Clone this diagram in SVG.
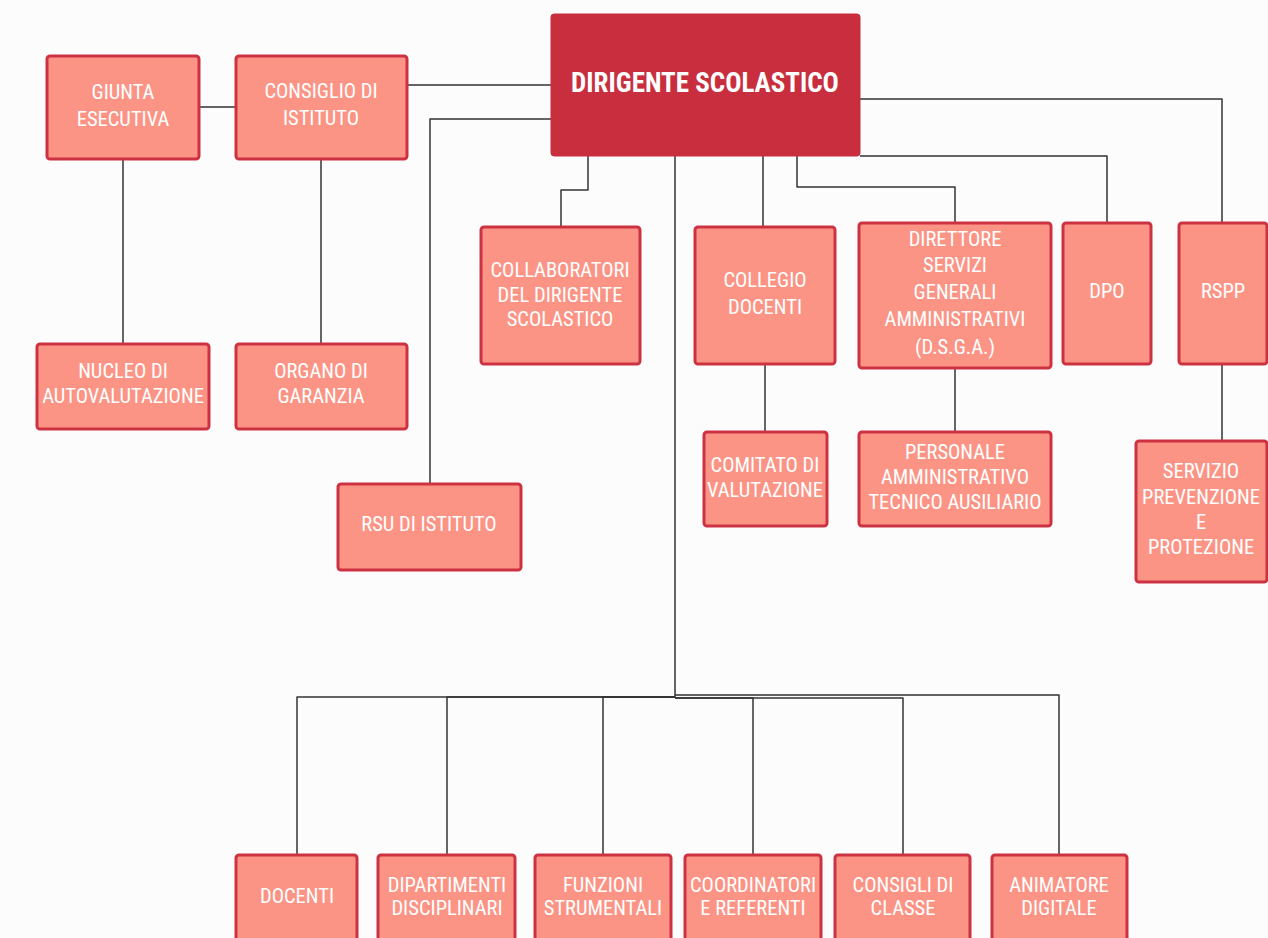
<svg xmlns="http://www.w3.org/2000/svg" width="1268" height="938" viewBox="0 0 1268 938">
<style>
.bg{fill:#fcfcfc}
.box{fill:#fc9486;stroke:#cd3242;stroke-width:3}
.main{fill:#c92e3e;stroke:#c92e3e;stroke-width:1}
.t{font-family:"Roboto Condensed","Liberation Sans Narrow","Liberation Sans",sans-serif;font-size:20.5px;fill:#ffffff;text-anchor:middle}
.tm{font-family:"Roboto Condensed","Liberation Sans Narrow","Liberation Sans",sans-serif;font-size:27px;font-weight:bold;fill:#ffffff;text-anchor:middle}
.c{fill:none;stroke:#333333;stroke-width:1.5;stroke-linejoin:round}
</style>
<rect class="bg" x="0" y="0" width="1268" height="938"/>
<g id="connectors">
<path class="c" d="M199,107 H236"/>
<path class="c" d="M407,85 H551"/>
<path class="c" d="M551,119 H430 V484"/>
<path class="c" d="M123,159 V344"/>
<path class="c" d="M321,159 V344"/>
<path class="c" d="M588,156 V190 H561 V227"/>
<path class="c" d="M763,156 V227"/>
<path class="c" d="M797,156 V187 H955 V223"/>
<path class="c" d="M860,156 H1107 V223"/>
<path class="c" d="M860,99 H1222 V223"/>
<path class="c" d="M765,364 V432"/>
<path class="c" d="M955,368 V432"/>
<path class="c" d="M1222,364 V441"/>
<path class="c" d="M675,156 V697 H297 V855"/>
<path class="c" d="M675,697 H447 V855"/>
<path class="c" d="M675,697 H603 V855"/>
<path class="c" d="M675,698 H753 V855"/>
<path class="c" d="M675,698 H903 V855"/>
<path class="c" d="M675,695 H1059 V855"/>
</g>
<g id="dirigente">
<rect class="main" x="551" y="14" width="309" height="142" rx="3"/>
<text class="tm" x="705" y="92">DIRIGENTE SCOLASTICO</text>
</g>
<g id="giunta">
<rect class="box" x="47" y="56" width="152" height="103" rx="3"/>
<text class="t" x="123" y="99">GIUNTA</text>
<text class="t" x="123" y="126">ESECUTIVA</text>
</g>
<g id="consiglio">
<rect class="box" x="236" y="56" width="171" height="103" rx="3"/>
<text class="t" x="321" y="98">CONSIGLIO DI</text>
<text class="t" x="321" y="125">ISTITUTO</text>
</g>
<g id="nucleo">
<rect class="box" x="37" y="344" width="172" height="85" rx="3"/>
<text class="t" x="123" y="378">NUCLEO DI</text>
<text class="t" x="123" y="403">AUTOVALUTAZIONE</text>
</g>
<g id="organo">
<rect class="box" x="236" y="344" width="171" height="85" rx="3"/>
<text class="t" x="321" y="378">ORGANO DI</text>
<text class="t" x="321" y="403">GARANZIA</text>
</g>
<g id="rsu">
<rect class="box" x="338" y="484" width="183" height="86" rx="3"/>
<text class="t" x="429" y="531">RSU DI ISTITUTO</text>
</g>
<g id="collaboratori">
<rect class="box" x="481" y="227" width="159" height="137" rx="3"/>
<text class="t" x="560" y="277">COLLABORATORI</text>
<text class="t" x="560" y="302">DEL DIRIGENTE</text>
<text class="t" x="560" y="326">SCOLASTICO</text>
</g>
<g id="collegio">
<rect class="box" x="695" y="227" width="140" height="137" rx="3"/>
<text class="t" x="765" y="287">COLLEGIO</text>
<text class="t" x="765" y="314">DOCENTI</text>
</g>
<g id="dsga">
<rect class="box" x="859" y="223" width="192" height="145" rx="3"/>
<text class="t" x="955" y="246">DIRETTORE</text>
<text class="t" x="955" y="272">SERVIZI</text>
<text class="t" x="955" y="299">GENERALI</text>
<text class="t" x="955" y="326">AMMINISTRATIVI</text>
<text class="t" x="955" y="354">(D.S.G.A.)</text>
</g>
<g id="dpo">
<rect class="box" x="1063" y="223" width="88" height="141" rx="3"/>
<text class="t" x="1107" y="298">DPO</text>
</g>
<g id="rspp">
<rect class="box" x="1179" y="223" width="88" height="141" rx="3"/>
<text class="t" x="1223" y="298">RSPP</text>
</g>
<g id="comitato">
<rect class="box" x="704" y="432" width="123" height="94" rx="3"/>
<text class="t" x="765" y="472">COMITATO DI</text>
<text class="t" x="765" y="497">VALUTAZIONE</text>
</g>
<g id="personale">
<rect class="box" x="859" y="432" width="192" height="94" rx="3"/>
<text class="t" x="955" y="459">PERSONALE</text>
<text class="t" x="955" y="484">AMMINISTRATIVO</text>
<text class="t" x="955" y="509">TECNICO AUSILIARIO</text>
</g>
<g id="servizio">
<rect class="box" x="1136" y="441" width="131" height="141" rx="3"/>
<text class="t" x="1201" y="478">SERVIZIO</text>
<text class="t" x="1201" y="504">PREVENZIONE</text>
<text class="t" x="1201" y="529">E</text>
<text class="t" x="1201" y="554">PROTEZIONE</text>
</g>
<g id="docenti">
<rect class="box" x="236" y="855" width="121" height="95" rx="3"/>
<text class="t" x="297" y="903">DOCENTI</text>
</g>
<g id="dipartimenti">
<rect class="box" x="378" y="855" width="137" height="95" rx="3"/>
<text class="t" x="447" y="892">DIPARTIMENTI</text>
<text class="t" x="447" y="915">DISCIPLINARI</text>
</g>
<g id="funzioni">
<rect class="box" x="535" y="855" width="136" height="95" rx="3"/>
<text class="t" x="603" y="892">FUNZIONI</text>
<text class="t" x="603" y="915">STRUMENTALI</text>
</g>
<g id="coordinatori">
<rect class="box" x="685" y="855" width="136" height="95" rx="3"/>
<text class="t" x="753" y="892">COORDINATORI</text>
<text class="t" x="753" y="915">E REFERENTI</text>
</g>
<g id="consigli">
<rect class="box" x="835" y="855" width="135" height="95" rx="3"/>
<text class="t" x="903" y="892">CONSIGLI DI</text>
<text class="t" x="903" y="915">CLASSE</text>
</g>
<g id="animatore">
<rect class="box" x="992" y="855" width="135" height="95" rx="3"/>
<text class="t" x="1059" y="892">ANIMATORE</text>
<text class="t" x="1059" y="915">DIGITALE</text>
</g>
</svg>
